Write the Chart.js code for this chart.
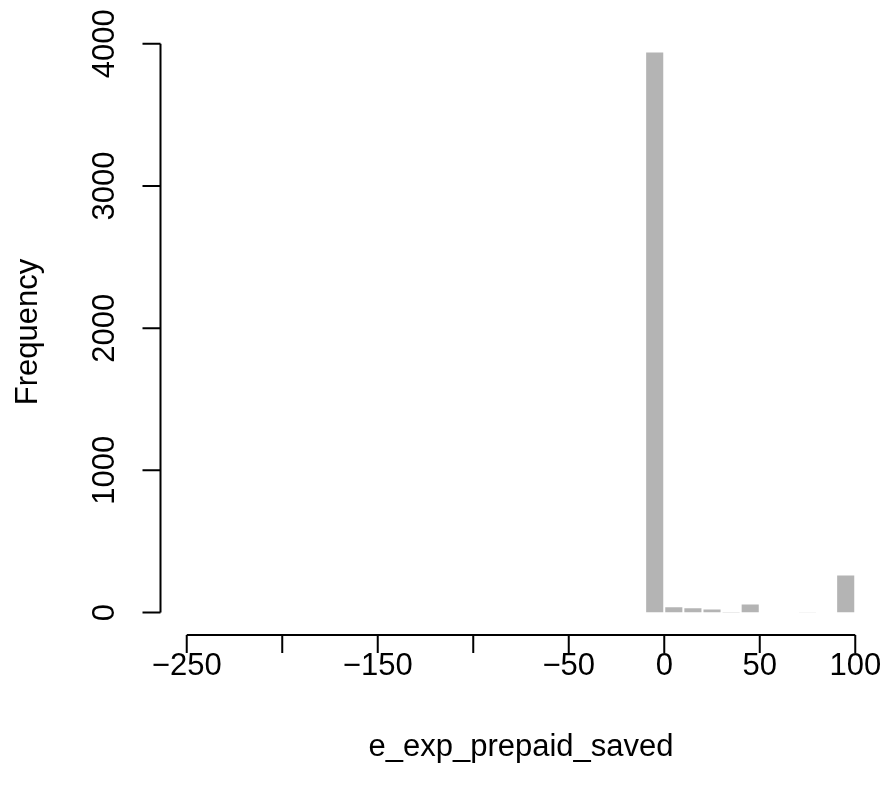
<!DOCTYPE html>
<html>
<head>
<meta charset="utf-8">
<script src="https://cdn.jsdelivr.net/npm/chart.js@4.4.0/dist/chart.umd.min.js"></script>
<style>
html,body{margin:0;padding:0;background:#ffffff;}
canvas{display:block;}
</style>
</head>
<body>
<canvas id="c" width="885" height="791"></canvas>
<script>
// ---- data (histogram of e_exp_prepaid_saved, 10-unit bins) ----
const binStarts = [-250,-240,-230,-220,-210,-200,-190,-180,-170,-160,
                   -150,-140,-130,-120,-110,-100,-90,-80,-70,-60,
                   -50,-40,-30,-20,-10,0,10,20,30,40,50,60,70,80,90];
const counts    = [1,0,0,0,0,0,0,0,0,0,
                   0,0,0,0,0,0,0,0,0,0,
                   0,0,0,0,3946,44,37,28,8,63,0,0,5,0,267];
const binWidth = 10;
const xTickValues = [-250,-200,-150,-100,-50,0,50,100];
const xTickLabels = ["\u2212250","","\u2212150","","\u221250","0","50","100"];
const yTickValues = [0,1000,2000,3000,4000];
const yTickLabels = ["0","1000","2000","3000","4000"];
const xTitle = "e_exp_prepaid_saved";
const yTitle = "Frequency";

// ---- scale ranges like R (4% extension) ----
const xLo = binStarts[0], xHi = binStarts[binStarts.length-1] + binWidth;
const xMin = xLo - 0.04*(xHi-xLo), xMax = xHi + 0.04*(xHi-xLo);
const yTop = Math.max(...counts);
const yMin = -0.04*yTop, yMax = 1.04*yTop;

const FONT = '31px "Liberation Sans", Arial, Helvetica, sans-serif';

const rAxes = {
  id: 'rAxes',
  afterDraw(chart) {
    const {ctx, chartArea: a, scales: {x, y}} = chart;
    ctx.save();
    ctx.strokeStyle = '#000';
    ctx.fillStyle = '#000';
    ctx.lineWidth = 2;
    ctx.font = FONT;
    const tick = 18;

    // y axis
    const x0 = a.left + 0.5;
    ctx.beginPath();
    ctx.moveTo(x0, y.getPixelForValue(yTickValues[0]));
    ctx.lineTo(x0, y.getPixelForValue(yTickValues[yTickValues.length-1]));
    yTickValues.forEach(v => {
      const py = y.getPixelForValue(v);
      ctx.moveTo(x0, py); ctx.lineTo(x0 - tick, py);
    });
    ctx.stroke();
    ctx.textAlign = 'center';
    ctx.textBaseline = 'alphabetic';
    yTickValues.forEach((v, i) => {
      const py = y.getPixelForValue(v);
      ctx.save();
      ctx.translate(x0 - 47, py);
      ctx.rotate(-Math.PI/2);
      ctx.fillText(yTickLabels[i], 0, 0);
      ctx.restore();
    });

    // x axis
    const y0 = a.bottom;
    ctx.beginPath();
    ctx.moveTo(x.getPixelForValue(xTickValues[0]), y0);
    ctx.lineTo(x.getPixelForValue(xTickValues[xTickValues.length-1]), y0);
    xTickValues.forEach(v => {
      const px = x.getPixelForValue(v);
      ctx.moveTo(px, y0); ctx.lineTo(px, y0 + tick);
    });
    ctx.stroke();
    xTickValues.forEach((v, i) => {
      if (xTickLabels[i]) ctx.fillText(xTickLabels[i], x.getPixelForValue(v), y0 + 40);
    });

    // titles
    ctx.fillText(xTitle, (a.left + a.right)/2, y0 + 121);
    ctx.save();
    ctx.translate(x0 - 124, (a.top + a.bottom)/2);
    ctx.rotate(-Math.PI/2);
    ctx.fillText(yTitle, 0, 0);
    ctx.restore();

    ctx.restore();
  }
};

new Chart(document.getElementById('c'), {
  type: 'bar',
  data: {
    datasets: [{
      data: binStarts.map((s, i) => ({x: s + binWidth/2, y: counts[i]})),
      backgroundColor: '#b4b4b4',
      borderColor: '#ffffff',
      borderWidth: 1,
      inflateAmount: 0,
      barPercentage: 1,
      categoryPercentage: 1
    }]
  },
  options: {
    responsive: false,
    animation: false,
    devicePixelRatio: 1,
    layout: {padding: {left: 160, top: 29, right: 3, bottom: 156}},
    plugins: {legend: {display: false}, tooltip: {enabled: false}},
    scales: {
      x: {type: 'linear', min: xMin, max: xMax, offset: false, display: false,
          afterBuildTicks: s => { s.ticks = xTickValues.map(v => ({value: v})); }},
      y: {type: 'linear', min: yMin, max: yMax, display: false}
    }
  },
  plugins: [rAxes]
});
</script>
</body>
</html>
